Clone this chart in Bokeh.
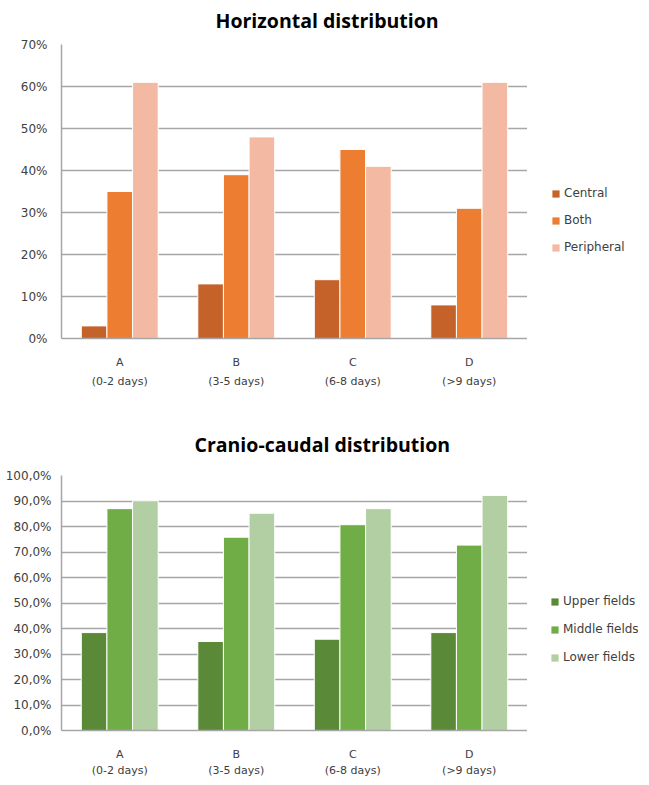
from bokeh.plotting import figure
from bokeh.models import FactorRange, Range1d, Legend, LegendItem, Title, ColumnDataSource, FixedTicker, Spacer
from bokeh.transform import dodge
from bokeh.layouts import column, row
from bokeh.embed import file_html
from bokeh.resources import INLINE

# ---- data ----
categories = ["A\n(0-2 days)", "B\n(3-5 days)", "C\n(6-8 days)", "D\n(>9 days)"]

horiz_names = ["Central", "Both", "Peripheral"]
central = [3, 13, 14, 8]
both = [35, 39, 45, 31]
peripheral = [61, 48, 41, 61]
horiz_colors = ["#C5622A", "#ED7D31", "#F4B9A2"]
horiz_ticks = [0, 10, 20, 30, 40, 50, 60, 70]
horiz_tick_labels = ["0%", "10%", "20%", "30%", "40%", "50%", "60%", "70%"]

cc_names = ["Upper fields", "Middle fields", "Lower fields"]
upper = [38.4, 34.9, 35.8, 38.4]
middle = [87.0, 75.8, 80.7, 72.7]
lower = [90.1, 85.2, 87.0, 92.2]
cc_colors = ["#5A8A38", "#70AD47", "#B2CFA3"]
cc_ticks = [0, 10, 20, 30, 40, 50, 60, 70, 80, 90, 100]
cc_tick_labels = ["0,0%", "10,0%", "20,0%", "30,0%", "40,0%", "50,0%",
                  "60,0%", "70,0%", "80,0%", "90,0%", "100,0%"]

GRID = "#A6A6A6"
TXT = "#404040"


def make_chart(title, names, series, colors, ticks, tick_labels, ymax,
               frame_h, top_border, bottom_border, title_offset, title_standoff,
               y_standoff, x_standoff, x_line_height, left_pad,
               legend_x, legend_y, legend_spacing, row_styles=None):
    data = {"cat": categories}
    keys = []
    for i, s in enumerate(series):
        k = "s%d" % i
        data[k] = s
        keys.append(k)
    src = ColumnDataSource(data)

    p = figure(x_range=FactorRange(factors=categories), y_range=Range1d(0, ymax),
               frame_width=466, frame_height=frame_h,
               output_backend="svg", toolbar_location=None,
               min_border_left=0, min_border_right=0,
               min_border_top=top_border, min_border_bottom=bottom_border)
    p.outline_line_color = None
    p.background_fill_color = "white"
    p.border_fill_color = "white"

    offsets = [-0.22, 0.0, 0.22]
    for k, col, off in zip(keys, colors, offsets):
        p.vbar(x=dodge("cat", off, range=p.x_range), top=k, width=0.22,
               source=src, fill_color=col, line_color="white", line_width=1)

    p.title = Title(text=title, align="left", offset=title_offset,
                    text_font="Open Sans", text_font_size="19.5px",
                    text_font_style="bold", text_color="#000000",
                    standoff=title_standoff)

    p.yaxis.ticker = FixedTicker(ticks=ticks)
    p.yaxis.major_label_overrides = {t: l for t, l in zip(ticks, tick_labels)}
    p.ygrid.ticker = FixedTicker(ticks=ticks)
    p.xgrid.grid_line_color = None
    p.ygrid.grid_line_color = GRID
    p.ygrid.grid_line_width = 1.5

    for ax in (p.xaxis, p.yaxis):
        ax.axis_line_color = GRID
        ax.axis_line_width = 1.5
        ax.major_tick_line_color = None
        ax.minor_tick_line_color = None
        ax.major_tick_out = 0
        ax.major_tick_in = 0
        ax.major_label_text_font = "DejaVu Sans"
        ax.major_label_text_color = TXT
    p.yaxis.major_label_text_font_size = "12px"
    p.xaxis.major_label_text_font_size = "11px"
    p.yaxis.major_label_standoff = y_standoff
    p.xaxis.major_label_standoff = x_standoff
    p.xaxis.major_label_text_line_height = x_line_height

    # legend lives in a small companion figure to the right of the chart;
    # its proxy bars use the same data but lie far outside its visible y range
    canvas_h = top_border + frame_h + bottom_border
    lg = figure(width=111, height=canvas_h, x_range=FactorRange(factors=categories),
                y_range=Range1d(-1000, -999),
                x_axis_type=None, y_axis_type=None, output_backend="svg",
                toolbar_location=None, min_border=0, min_border_left=0,
                min_border_right=0, min_border_top=0, min_border_bottom=0)
    lg.outline_line_color = None
    lg.xgrid.grid_line_color = None
    lg.ygrid.grid_line_color = None
    items = []
    for k, name, col in zip(keys, names, colors):
        r = lg.vbar(x="cat", top=k, width=0.001, source=src, fill_color=col, line_color=None)
        items.append(LegendItem(label=name, renderers=[r]))
    legend = Legend(items=items, location=(legend_x, legend_y), orientation="vertical",
                    glyph_width=9, glyph_height=9, label_standoff=4,
                    spacing=legend_spacing, padding=0, margin=0,
                    border_line_color=None, background_fill_alpha=0,
                    label_text_font="DejaVu Sans", label_text_font_size="12px",
                    label_text_color=TXT)
    lg.add_layout(legend, "center")
    kw = {}
    if row_styles:
        kw["styles"] = row_styles
    return row(Spacer(width=left_pad, height=10), p, lg, spacing=0, **kw)


r1 = make_chart("Horizontal distribution", horiz_names, [central, both, peripheral],
                horiz_colors, horiz_ticks, horiz_tick_labels, 70,
                frame_h=294, top_border=43, bottom_border=50,
                title_offset=154, title_standoff=21,
                y_standoff=14, x_standoff=17, x_line_height=1.5, left_pad=17,
                legend_x=24, legend_y=74, legend_spacing=13,
                row_styles={"margin-top": "-6px"})
r2 = make_chart("Cranio-caudal distribution", cc_names, [upper, middle, lower],
                cc_colors, cc_ticks, cc_tick_labels, 100,
                frame_h=255, top_border=84, bottom_border=47,
                title_offset=133, title_standoff=35,
                y_standoff=10, x_standoff=17, x_line_height=1.3, left_pad=2,
                legend_x=23, legend_y=63, legend_spacing=14)

layout = column(r1, r2, spacing=0)
open("out.html", "w").write(file_html(layout, INLINE))
